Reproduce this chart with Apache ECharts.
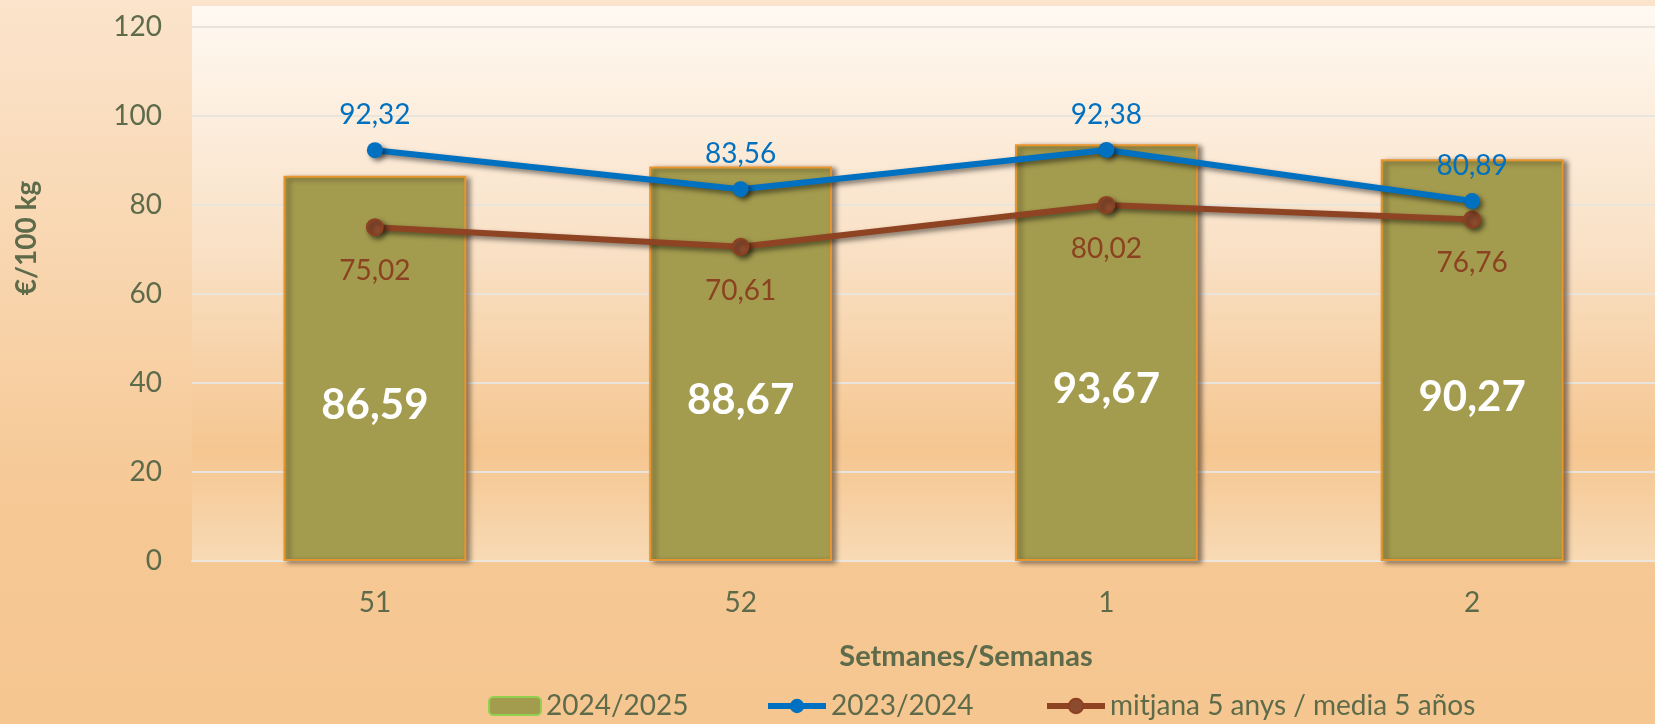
<!DOCTYPE html>
<html>
<head>
<meta charset="utf-8">
<script src="https://cdn.jsdelivr.net/npm/echarts@6/dist/echarts.min.js"></script>
<style>
html,body{margin:0;padding:0;width:1655px;height:724px;overflow:hidden;}
#chart{width:1655px;height:724px;}
</style>
</head>
<body>
<div id="chart"></div>
<script>
const categories = ['51', '52', '1', '2'];
const seriesNames = ['2024/2025', '2023/2024', 'mitjana 5 anys / media 5 años'];
const values2425 = [86.59, 88.67, 93.67, 90.27];
const values2324 = [92.32, 83.56, 92.38, 80.89];
const valuesAvg5 = [75.02, 70.61, 80.02, 76.76];
const yTicks = [0, 20, 40, 60, 80, 100, 120];
const yTitle = '€/100 kg';
const xTitle = 'Setmanes/Semanas';

const FONT = 'Lato';
const TXT = '#5E6B4A';
const BLUE = '#0070C0';
const BROWN = '#8E4323';
const fmt = v => v.toFixed(2).replace('.', ',');

const chart = echarts.init(document.getElementById('chart'));
const shadow = {shadowColor: 'rgba(0,0,0,0.5)', shadowBlur: 5, shadowOffsetX: 3, shadowOffsetY: 3};
const option = {
  backgroundColor: {
    type: 'linear', x: 0, y: 0, x2: 0, y2: 1,
    colorStops: [
      {offset: 0, color: '#FBE4CC'},
      {offset: 0.7, color: '#F6C894'},
      {offset: 1, color: '#F5C690'}
    ]
  },
  textStyle: {fontFamily: FONT},
  animation: false,
  grid: {left: 192, right: 0, top: 27, bottom: 163, containLabel: false},
  graphic: [
    {
      type: 'rect', z: -10, silent: true,
      shape: {x: 192, y: 6, width: 1463, height: 555},
      style: {
        fill: {
          type: 'linear', x: 0, y: 0, x2: 0, y2: 1,
          colorStops: [
            {offset: 0, color: '#FFF9F2'},
            {offset: 0.45, color: '#F9E0C4'},
            {offset: 0.8, color: '#F5C690'},
            {offset: 1, color: '#F8DAB5'}
          ]
        }
      }
    },
    {
      type: 'text', x: 27, y: 238, rotation: Math.PI / 2, silent: true,
      style: {text: yTitle, fill: TXT, font: 'bold 28px ' + FONT, align: 'center', verticalAlign: 'middle'}
    },
    {
      type: 'text', x: 966, y: 657, silent: true,
      style: {text: xTitle, fill: TXT, font: 'bold 29px ' + FONT, align: 'center', verticalAlign: 'middle'}
    }
  ],
  legend: [
    {
      data: [{name: seriesNames[0], itemStyle: {borderColor: '#92D050', borderWidth: 2}}],
      left: 488, top: 691, padding: 0, itemWidth: 52, itemHeight: 18,
      textStyle: {color: TXT, fontSize: 28, fontFamily: FONT, lineHeight: 30}
    },
    {
      data: [{name: seriesNames[1], lineStyle: {width: 6, color: BLUE}, itemStyle: {color: BLUE}}],
      left: 765, top: 691, padding: 0, itemWidth: 58, itemHeight: 18,
      textStyle: {color: TXT, fontSize: 28, fontFamily: FONT, lineHeight: 30}
    },
    {
      data: [{name: seriesNames[2], lineStyle: {width: 6, color: BROWN}, itemStyle: {color: '#8C4B2E'}}],
      left: 1044, top: 691, padding: 0, itemWidth: 58, itemHeight: 18,
      textStyle: {color: TXT, fontSize: 28, fontFamily: FONT, lineHeight: 30}
    }
  ],
  xAxis: {
    type: 'category', data: categories, boundaryGap: true,
    axisLine: {show: true, lineStyle: {color: '#ECE6DC', width: 2}},
    axisTick: {show: false},
    axisLabel: {color: TXT, fontSize: 28, fontFamily: FONT, margin: 28}
  },
  yAxis: {
    type: 'value', min: yTicks[0], max: yTicks[yTicks.length - 1], interval: yTicks[1] - yTicks[0],
    axisLine: {show: false}, axisTick: {show: false},
    axisLabel: {color: TXT, fontSize: 28, fontFamily: FONT, margin: 30},
    splitLine: {lineStyle: {color: '#E9E5DD', width: 2}}
  },
  series: [
    {
      name: seriesNames[0], type: 'bar', data: values2425, barWidth: '50%', z: 2,
      itemStyle: {
        color: '#A39B4E', borderColor: '#E9952E', borderWidth: 2,
        shadowColor: 'rgba(40,30,20,0.55)', shadowBlur: 5, shadowOffsetX: 4, shadowOffsetY: 2
      },
      label: {
        show: true, position: 'inside', offset: [0, 37], formatter: p => fmt(p.value),
        color: '#FFFFFF', fontSize: 42, fontWeight: 'bold', fontFamily: FONT
      }
    },
    {
      name: seriesNames[1], type: 'line', data: values2324, z: 4,
      symbol: 'circle', symbolSize: 16,
      lineStyle: Object.assign({color: BLUE, width: 6}, shadow),
      itemStyle: Object.assign({color: BLUE}, shadow),
      label: {
        show: true, position: 'top', distance: 13, formatter: p => fmt(p.value),
        color: BLUE, fontSize: 28, fontFamily: FONT
      }
    },
    {
      name: seriesNames[2], type: 'line', data: valuesAvg5, z: 3,
      symbol: 'circle', symbolSize: 16,
      lineStyle: Object.assign({color: BROWN, width: 6}, shadow),
      itemStyle: Object.assign({color: '#8C4B2E', borderColor: '#8E4020', borderWidth: 2}, shadow),
      label: {
        show: true, position: 'bottom', distance: 21, formatter: p => fmt(p.value),
        color: '#8B4220', fontSize: 28, fontFamily: FONT
      }
    }
  ]
};
chart.setOption(option);
</script>
</body>
</html>
